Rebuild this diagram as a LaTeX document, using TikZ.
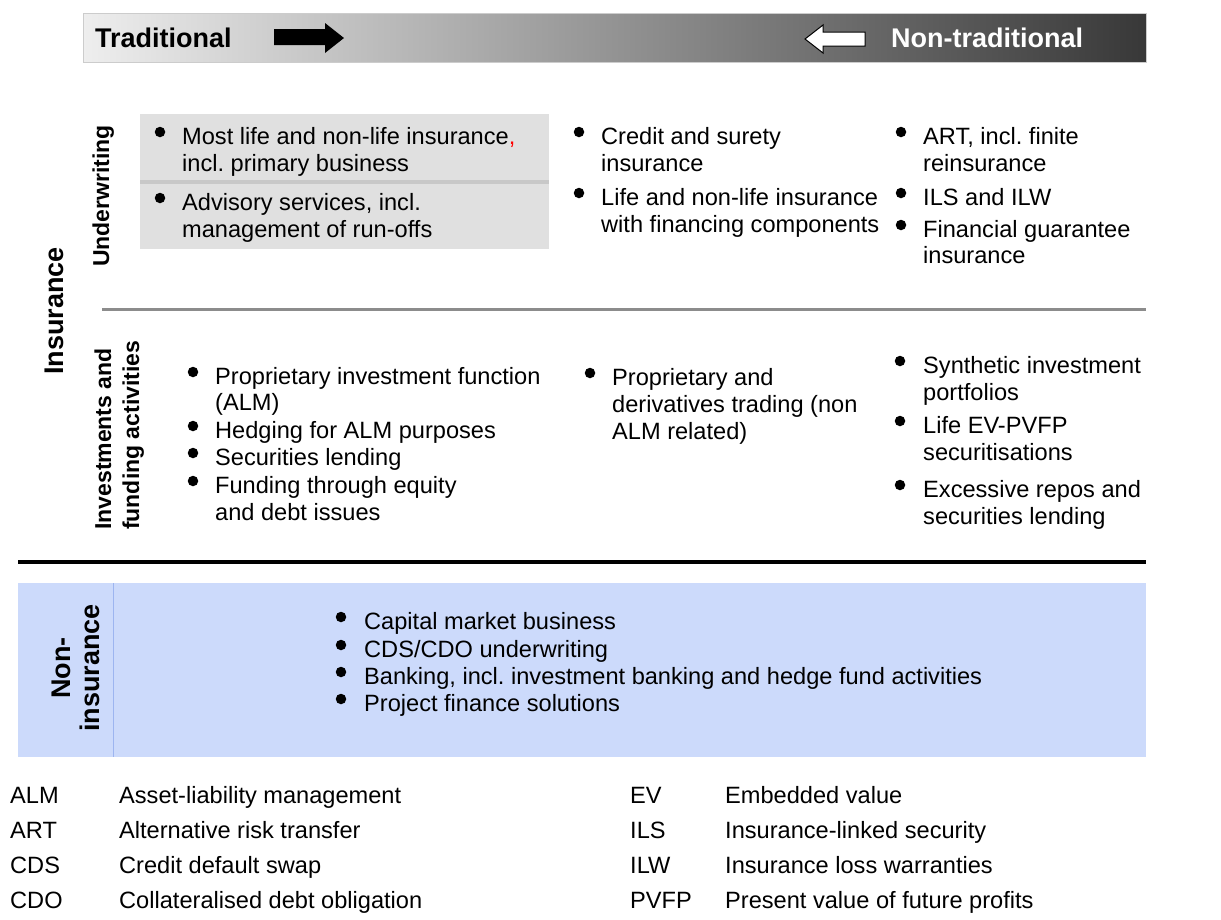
\documentclass[tikz,border=0pt]{standalone}
\usepackage{fontspec}
\setmainfont{Liberation Sans}
\definecolor{boxgray}{HTML}{E0E0E0}
\definecolor{divgray}{HTML}{C8C8C8}
\definecolor{linegray}{HTML}{8C8C8C}
\definecolor{nonblue}{HTML}{CCDAFB}
\definecolor{nonline}{HTML}{9DB5F0}
\definecolor{banl}{HTML}{EEEEEE}
\definecolor{banm}{HTML}{B4B4B4}
\definecolor{banr}{HTML}{383838}
\tikzset{
  txt/.style={anchor=base west, inner sep=0pt, font=\fontsize{23.6}{27}\selectfont},
  dot/.style={circle, fill=black, minimum size=10.5pt, inner sep=0pt},
  vlab/.style={rotate=90, anchor=base, inner sep=0pt, font=\bfseries\fontsize{23}{27}\selectfont},
  vlabw/.style={rotate=90, anchor=base west, inner sep=0pt, font=\bfseries\fontsize{23}{27}\selectfont},
  vbig/.style={rotate=90, anchor=base, inner sep=0pt, font=\bfseries\fontsize{27}{30}\selectfont},
  bantxt/.style={anchor=base west, inner sep=0pt, font=\bfseries\fontsize{27}{30}\selectfont},
}
\newcommand\mkline[4]{\node[txt] (#1) at (#2,#3) {#4};}
\newcommand\mkdot[3]{\node[dot] (#1) at (#2,#3) {};}
\begin{document}
\frenchspacing
\begin{tikzpicture}[x=1pt,y=-1pt]
\useasboundingbox (0,0) rectangle (1221,919);
\fill[white] (0,0) rectangle (1221,919);
% banner
\shade[left color=banl, middle color=banm, right color=banr] (83,13) rectangle (1146,62);
\draw[gray!40, line width=0.8pt] (83,13) rectangle (1146,62);
\node[bantxt] (trad) at (95,47) {Traditional};
\node[bantxt, text=white] (nontrad) at (891,47) {Non-traditional};
\fill[black] (274,29) -- (325,29) -- (325,23) -- (344,38) -- (325,53) -- (325,45) -- (274,45) -- cycle;
\filldraw[fill=white, draw=black, line width=1pt] (805,39) -- (823,25) -- (823,32) -- (865,32) -- (865,46) -- (823,46) -- (823,53) -- cycle;
% underwriting gray box
\fill[boxgray] (140,114) rectangle (549,249);
\fill[divgray] (140,180) rectangle (549,184);
% vertical labels
\node[vbig] (ins) at (63,311) {Insurance};
\node[vlab] (uw) at (109,196) {Underwriting};
\node[vlabw] (inv1) at (111,530) {Investments and};
\node[vlabw] (inv2) at (139,530) {funding activities};
% underwriting col1
\mkdot{d11}{160}{132}
\mkline{t11a}{182}{144}{Most life and non-life insurance{\color{red},}}
\mkline{t11b}{182}{171}{incl. primary business}
\mkdot{d12}{160}{198}
\mkline{t12a}{182}{210}{Advisory services, incl.}
\mkline{t12b}{182}{237}{management of run-offs}
% underwriting col2
\mkdot{d21}{579}{132}
\mkline{t21a}{601}{144}{Credit and surety}
\mkline{t21b}{601}{171}{insurance}
\mkdot{d22}{579}{193}
\mkline{t22a}{601}{205}{Life and non-life insurance}
\mkline{t22b}{601}{232}{with financing components}
% underwriting col3
\mkdot{d31}{901}{132}
\mkline{t31a}{923}{144}{ART, incl. finite}
\mkline{t31b}{923}{171}{reinsurance}
\mkdot{d32}{901}{193}
\mkline{t32a}{923}{205}{ILS and ILW}
\mkdot{d33}{901}{225}
\mkline{t33a}{923}{237}{Financial guarantee}
\mkline{t33b}{923}{263}{insurance}
% separator
\coordinate (sepA) at (102,309);
\coordinate (sepB) at (1146,309);
\draw[linegray, line width=3pt] (sepA) -- (sepB);
% investments col1
\mkdot{e11}{193}{372}
\mkline{u11a}{215}{384}{Proprietary investment function}
\mkline{u11b}{215}{410}{(ALM)}
\mkdot{e12}{193}{426}
\mkline{u12a}{215}{438}{Hedging for ALM purposes}
\mkdot{e13}{193}{453}
\mkline{u13a}{215}{465}{Securities lending}
\mkdot{e14}{193}{481}
\mkline{u14a}{215}{493}{Funding through equity}
\mkline{u14b}{215}{520}{and debt issues}
% investments col2
\mkdot{e21}{590}{373}
\mkline{u21a}{612}{385}{Proprietary and}
\mkline{u21b}{612}{412}{derivatives trading (non}
\mkline{u21c}{612}{439}{ALM related)}
% investments col3
\mkdot{e31}{900}{361}
\mkline{u31a}{923}{373}{Synthetic investment}
\mkline{u31b}{923}{400}{portfolios}
\mkdot{e32}{900}{421}
\mkline{u32a}{923}{433}{Life EV-PVFP}
\mkline{u32b}{923}{460}{securitisations}
\mkdot{e33}{900}{485}
\mkline{u33a}{923}{497}{Excessive repos and}
\mkline{u33b}{923}{524}{securities lending}
% thick line
\coordinate (blA) at (18,562);
\coordinate (blB) at (1146,562);
\draw[black, line width=4pt] (blA) -- (blB);
% non-insurance box
\fill[nonblue] (18,583) rectangle (1146,757);
\coordinate (ndA) at (113,583);
\coordinate (ndB) at (113,757);
\draw[nonline, line width=1pt] (ndA) -- (ndB);
\node[vbig] (non1) at (70,668) {Non-};
\node[vbig] (non2) at (99,668) {insurance};
\mkdot{f1}{341}{617}
\mkline{n1}{364}{629}{Capital market business}
\mkdot{f2}{341}{645}
\mkline{n2}{364}{657}{CDS/CDO underwriting}
\mkdot{f3}{341}{672}
\mkline{n3}{364}{684}{Banking, incl. investment banking and hedge fund activities}
\mkdot{f4}{341}{699}
\mkline{n4}{364}{711}{Project finance solutions}
% legend
\mkline{la1}{10}{803}{ALM}\mkline{lb1}{119}{803}{Asset-liability management}
\mkline{la2}{10}{838}{ART}\mkline{lb2}{119}{838}{Alternative risk transfer}
\mkline{la3}{10}{873}{CDS}\mkline{lb3}{119}{873}{Credit default swap}
\mkline{la4}{10}{908}{CDO}\mkline{lb4}{119}{908}{Collateralised debt obligation}
\mkline{ra1}{630}{803}{EV}\mkline{rb1}{725}{803}{Embedded value}
\mkline{ra2}{630}{838}{ILS}\mkline{rb2}{725}{838}{Insurance-linked security}
\mkline{ra3}{630}{873}{ILW}\mkline{rb3}{725}{873}{Insurance loss warranties}
\mkline{ra4}{630}{908}{PVFP}\mkline{rb4}{725}{908}{Present value of future profits}
\end{tikzpicture}
\end{document}
